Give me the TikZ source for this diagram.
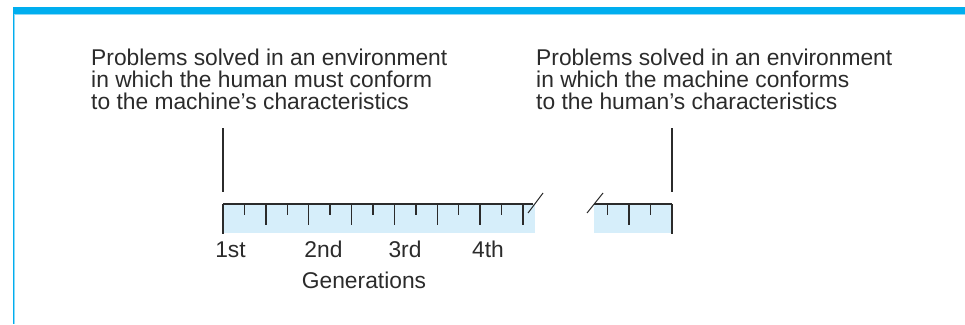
\documentclass[tikz,border=0pt]{standalone}
\usepackage{fontspec}
\setmainfont{Liberation Sans}
\definecolor{barcyan}{HTML}{00AEEF}
\definecolor{barlight}{HTML}{8FD8F5}
\definecolor{rulerfill}{HTML}{D6EEFA}
\definecolor{ink}{HTML}{2B2B2B}
\begin{document}
\begin{tikzpicture}[x=1pt,y=-1pt,
  lbl/.style={inner sep=0pt,font=\fontsize{22.8}{22.3}\selectfont,text=ink},
  para/.style={lbl,align=left,anchor=north west},
  rline/.style={draw=ink,line width=1.4pt},
  minortick/.style={rline},
  majortick/.style={rline}]
\useasboundingbox (0,0) rectangle (965,324);
% frame
\fill[barcyan] (12.7,6.7) rectangle (965,14);
\fill[barlight] (14,14) rectangle (965,15.2);
\fill[barcyan] (12.7,14) rectangle (14,324);
\fill[barlight] (14,15.2) rectangle (15.2,324);
% texts
\node[para] (left) at (91,48.5) {Problems solved in an environment\\in which the human must conform\\to the machine’s characteristics};
\node[para] (right) at (536,48.5) {Problems solved in an environment\\in which the machine conforms\\to the human’s characteristics};
% ruler left piece
\coordinate (l0) at (223,204);
\coordinate (lend) at (533,204);
\fill[rulerfill] (223,204) rectangle (535,233);
\draw[rline] (l0) -- (lend);
\draw[rline] (l0) -- (223,234);
\foreach \k in {1,...,14}{
  \pgfmathsetmacro{\xx}{223+21.43*\k}
  \ifodd\k
    \draw[minortick] (\xx,204) -- (\xx,215);
  \else
    \draw[majortick] (\xx,204) -- (\xx,225);
  \fi
}
\draw[rline,line width=1pt] (528,213) -- (543,193);
% ruler right piece
\coordinate (r0) at (594,204);
\coordinate (rend) at (672,204);
\fill[rulerfill] (594,204) rectangle (672,233);
\draw[rline] (r0) -- (rend);
\draw[rline] (rend) -- (672,234);
\draw[minortick] (607.6,204) -- (607.6,215);
\draw[majortick] (629,204) -- (629,225);
\draw[minortick] (650.5,204) -- (650.5,215);
\draw[rline,line width=1pt] (587,213) -- (603,193);
% pointer lines
\coordinate (lp1) at (223,128);
\coordinate (lp2) at (223,192);
\coordinate (rp1) at (672,128);
\coordinate (rp2) at (672,192);
\draw[rline] (lp1) -- (lp2);
\draw[rline] (rp1) -- (rp2);
% labels
\node[lbl,anchor=base] (g1) at (230.5,257) {1st};
\node[lbl,anchor=base] (g2) at (323.5,257) {2nd};
\node[lbl,anchor=base] (g3) at (405,257) {3rd};
\node[lbl,anchor=base] (g4) at (488,257) {4th};
\node[lbl,anchor=base] (gen) at (364,288) {Generations};
\end{tikzpicture}
\end{document}
